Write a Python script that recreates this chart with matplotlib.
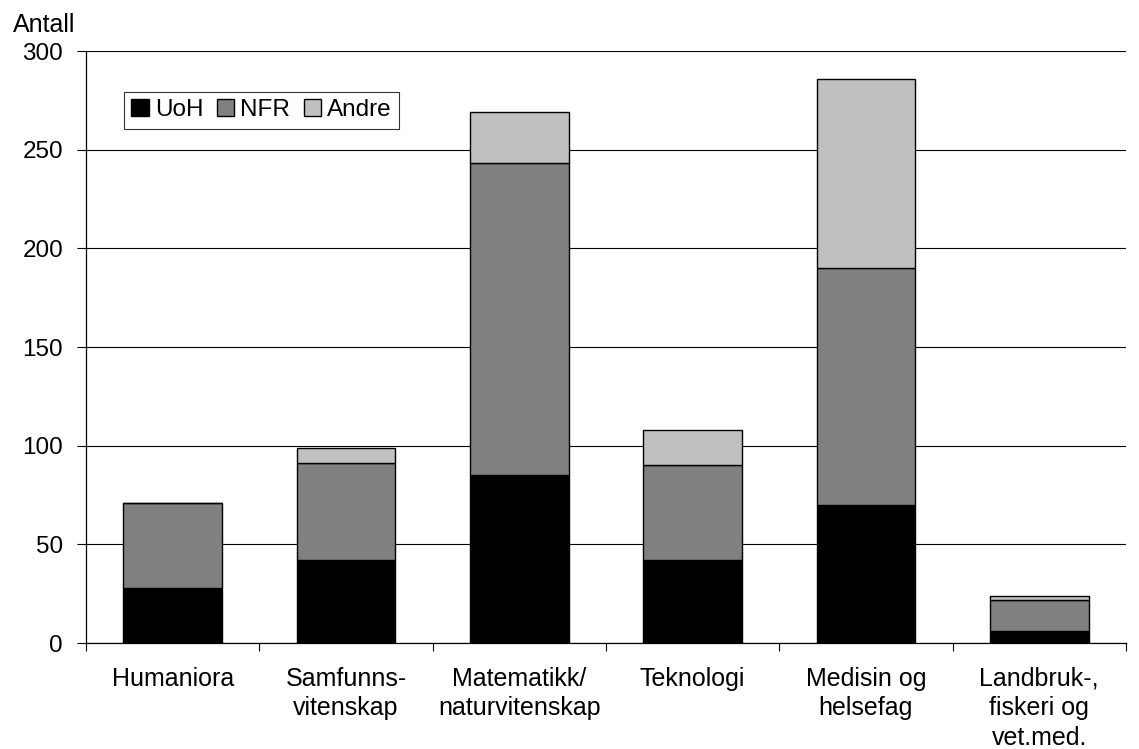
import matplotlib
matplotlib.use('Agg')
import matplotlib.pyplot as plt
import numpy as np

plt.rcParams['font.family'] = ['Liberation Sans', 'DejaVu Sans']

categories = ['Humaniora', 'Samfunns-\nvitenskap', 'Matematikk/\nnaturvitenskap',
              'Teknologi', 'Medisin og\nhelsefag', 'Landbruk-,\nfiskeri og\nvet.med.']
uoh = [28, 42, 85, 42, 70, 6]
nfr = [43, 49, 158, 48, 120, 16]
andre = [0, 8, 26, 18, 96, 2]
series_names = ['UoH', 'NFR', 'Andre']
colors = ['#000000', '#808080', '#c0c0c0']

FS = 17.5

fig = plt.figure(figsize=(11.39, 7.49), dpi=100)
ax = fig.add_axes([0.0755, 0.1415, 0.913, 0.7904])

x = np.arange(len(categories))
bottom = np.zeros(len(categories))
for vals, name, col in zip([uoh, nfr, andre], series_names, colors):
    vals = np.array(vals, dtype=float)
    ax.bar(x, vals, width=0.57, bottom=bottom, color=col, edgecolor='black',
           linewidth=1.0, label=name, zorder=3)
    bottom += vals

ax.set_xlim(-0.5, len(categories) - 0.5)
ax.set_ylim(0, 300)
ax.set_yticks(np.arange(0, 301, 50))
ax.yaxis.grid(True, color='black', linewidth=0.8, zorder=0)
ax.tick_params(axis='y', labelsize=FS, length=6.5, width=0.8, direction='out', pad=10)

# category boundary ticks on x axis, labels centred
ax.set_xticks(np.arange(-0.5, len(categories), 1.0))
ax.set_xticklabels([])
ax.set_xticks(x, minor=True)
ax.set_xticklabels(categories, minor=True, fontsize=18, linespacing=1.3)
ax.tick_params(axis='x', which='major', length=6, width=0.8, direction='out')
ax.tick_params(axis='x', which='minor', length=0, pad=17)

for s in ['top', 'right']:
    ax.spines[s].set_visible(False)
for s in ['left', 'bottom']:
    ax.spines[s].set_linewidth(0.9)

fig.text(0.011, 0.967, 'Antall', fontsize=18, ha='left', va='center')

leg = ax.legend(loc='upper left', bbox_to_anchor=(0.0365, 0.931), ncol=3,
                fontsize=FS, frameon=True, fancybox=False, handlelength=0.72,
                handleheight=0.72, handletextpad=0.25, columnspacing=0.55,
                borderpad=0.3, borderaxespad=0)
leg.get_frame().set_edgecolor('black')
leg.get_frame().set_linewidth(0.8)

fig.savefig('out.png', dpi=100)
